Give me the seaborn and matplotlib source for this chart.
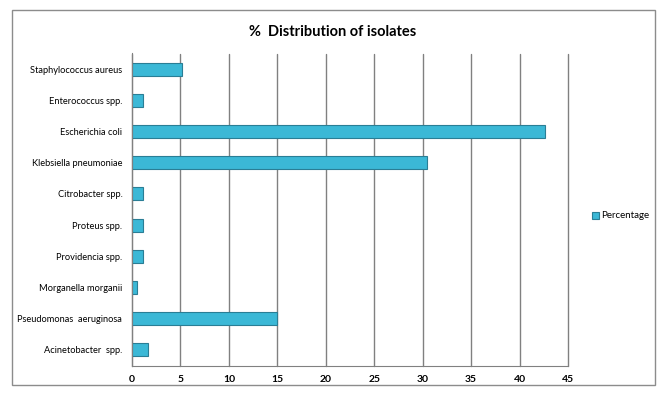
import numpy as np
import pandas as pd
import matplotlib.pyplot as plt
import seaborn as sns
from matplotlib.patches import Rectangle

# isolates, top to bottom as in the chart
organisms = ["Staphylococcus aureus", "Enterococcus spp.", "Escherichia coli",
             "Klebsiella pneumoniae", "Citrobacter spp.", "Proteus spp.",
             "Providencia spp.", "Morganella morganii", "Pseudomonas  aeruginosa",
             "Acinetobacter  spp."]
percentage = [5.2, 1.1, 42.6, 30.4, 1.1, 1.1, 1.1, 0.55, 15.0, 1.65]
x_ticks = [0, 5, 10, 15, 20, 25, 30, 35, 40, 45]

df = pd.DataFrame({"Organism": organisms, "Value": percentage,
                   "Series": "Percentage"})

sns.set_style("white")
plt.rcParams['font.family'] = ['Lato', 'DejaVu Sans']
plt.rcParams['text.color'] = 'black'
plt.rcParams['xtick.color'] = 'black'
plt.rcParams['ytick.color'] = 'black'

fig = plt.figure(figsize=(6.61, 3.95), dpi=100)
fig.patches.append(Rectangle((12 / 661, 10 / 395), 643 / 661, 375 / 395,
                             transform=fig.transFigure, fill=False,
                             edgecolor='#8c8c8c', linewidth=1))
ax = fig.add_axes([132 / 661, 29.5 / 395, 436 / 661, 312 / 395])

# saturation=1 keeps the bright cyan of the original
sns.barplot(data=df, x="Value", y="Organism", hue="Series",
            palette=['#3BB8D6'], saturation=1, orient='h', width=0.42,
            edgecolor='#2A7E95', linewidth=0.8, ax=ax)

ax.set_xlim(0, 45)
ax.set_xticks(x_ticks)
ax.set_xticklabels([str(t) for t in x_ticks], fontsize=7.5, fontweight='bold')
ax.xaxis.grid(True, color='#808080', linewidth=1)
for gl in ax.get_xgridlines():
    gl.set_clip_on(False)
ax.set_axisbelow(True)
ax.tick_params(axis='x', length=3, color='#808080', pad=4)
ax.tick_params(axis='y', length=0, labelsize=6.7, pad=7)
ax.set_yticks(np.arange(-0.5, len(organisms), 1.0), minor=True)
ax.tick_params(axis='y', which='minor', length=4, color='#808080')
ax.set_xlabel("")
ax.set_ylabel("")
for side in ['top', 'right']:
    ax.spines[side].set_visible(False)
for side in ['left', 'bottom']:
    ax.spines[side].set_color('#808080')

leg = ax.get_legend()
handles, labels = ax.get_legend_handles_labels()
leg.remove()
fig.legend(handles, labels, loc='center left',
           bbox_to_anchor=(583 / 661, 1 - 216 / 395), frameon=False,
           fontsize=7, handlelength=0.7, handleheight=0.7, handletextpad=0.3)

fig.text(333 / 661, 1 - 32 / 395, "%  Distribution of isolates",
         ha='center', va='center', fontsize=10.5, fontweight='bold')

fig.savefig("out.png", dpi=100)
